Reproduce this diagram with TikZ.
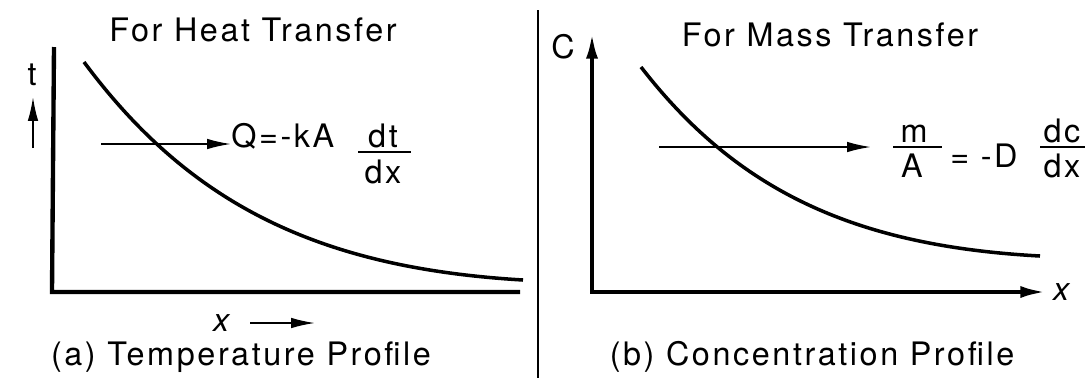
\documentclass[tikz,border=0pt]{standalone}
\usepackage{fontspec}
\setmainfont{TeX Gyre Heros}[LetterSpace=8]
\usetikzlibrary{arrows.meta, calc}

\begin{document}
\begin{tikzpicture}[x=0.025cm, y=-0.025cm,
  axis/.style={line width=3.1pt},
  profile/.style={line width=2.5pt},
  flux/.style={line width=1.2pt, -{Latex[length=17pt, width=7.5pt]}},
  fracbar/.style={line width=1.9pt},
  lbl/.style={inner sep=0pt, font=\fontsize{23}{27}\selectfont}]
  \useasboundingbox (0,0) rectangle (1085,378);
  \draw[line width=1.4pt] (538,10) -- (538,378);

  % (a) heat transfer
  \node[lbl] (htitle) at (253,30) {For Heat Transfer};
  \coordinate (htop) at (54,47);
  \coordinate (horig) at (52,292);
  \coordinate (hend) at (520,292);
  \draw[axis] (htop) -- (horig) -- (hend);
  \draw[profile] (84,62) .. controls (190,205) and (320,268) .. (523,280);
  \node[lbl] (tlbl) at (32,75) {t};
  \coordinate (ttail) at (33,148);
  \coordinate (ttip) at (33,97);
  \draw[flux] (ttail) -- (ttip);
  \node[lbl, anchor=base west] (heq) at (231,147) {Q=-kA};
  \coordinate (htail) at (101,144);
  \draw[flux] (htail) -- (htail -| heq.west);
  \node[lbl, anchor=base] (hnum) at (383,147) {dt};
  \node[lbl, anchor=base] (hden) at (383,183) {dx};
  \draw[fracbar] ($(hnum.base)+(-25,5)$) -- ($(hnum.base)+(28,5)$);
  \node[lbl, anchor=base] (xlbl) at (223,331) {\textit{x}};
  \coordinate (xtail) at (250,323);
  \coordinate (xtip) at (315,323);
  \draw[flux] (xtail) -- (xtip);
  \node[lbl] (hcap) at (241,357) {(a) Temperature Profile};

  % (b) mass transfer
  \node[lbl] (mtitle) at (830,35) {For Mass Transfer};
  \coordinate (mtop) at (592,32);
  \coordinate (morig) at (592,292);
  \coordinate (mend) at (1047,292);
  \draw[axis, {Latex[length=19pt, width=8.5pt]}-{Latex[length=19pt, width=8.5pt]}] (mtop) -- (morig) -- (mend);
  \node[lbl] (clbl) at (563,47) {C};
  \node[lbl] (xax) at (1063,292) {\textit{x}};
  \draw[profile] (641,67) .. controls (737,191) and (855,246) .. (1040,256);
  \node[lbl, anchor=base] (mnum) at (914,142) {m};
  \node[lbl, anchor=base] (mden) at (912,177) {A};
  \draw[fracbar] ($(mnum.base)+(-21,5)$) -- ($(mnum.base)+(28,5)$);
  \coordinate (mtail) at (659,147);
  \draw[flux] (mtail) -- ($(mtail -| mden.west)+(-30,0)$);
  \node[lbl, anchor=base west] (meq) at (950,167) {= -D};
  \node[lbl, anchor=base] (cnum) at (1062,142) {dc};
  \node[lbl, anchor=base] (cden) at (1062,177) {dx};
  \draw[fracbar] ($(cnum.base)+(-22,5)$) -- ($(cnum.base)+(23,5)$);
  \node[lbl] (mcap) at (812,357) {(b) Concentration Profile};
\end{tikzpicture}
\end{document}
